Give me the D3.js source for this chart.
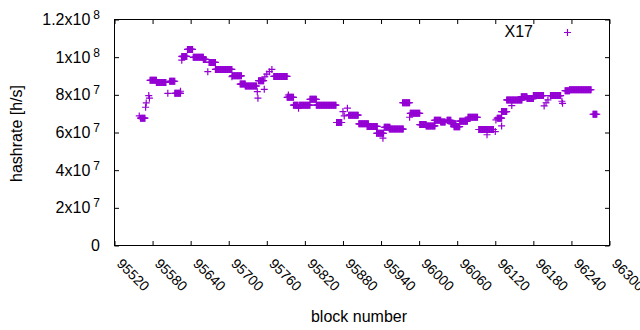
<!DOCTYPE html>
<html>
<head>
<meta charset="utf-8">
<script src="https://cdn.jsdelivr.net/npm/d3@7"></script>
<style>
  body { margin: 0; background: #fff; }
  svg text { font-family: "Liberation Sans", Arial, sans-serif; fill: #000; }
</style>
</head>
<body>
<div id="chart"></div>
<script>
// Data: runs of consecutive blocks with the same hashrate (in 1e6 h/s)
const runStart = [95559, 95561, 95569, 95570, 95574, 95575, 95576, 95586, 95604, 95607,
    95615, 95624, 95626, 95628, 95626, 95635, 95644, 95660, 95667, 95669,
    95679, 95705, 95706, 95718, 95726, 95745, 95746, 95747, 95756, 95757,
    95760, 95764, 95768, 95771, 95792, 95794, 95802, 95810, 95811, 95828,
    95838, 95870, 95880, 95882, 95887, 95889, 95905, 95918, 95933, 95943,
    95945, 95953, 95974, 95985, 95986, 96001, 96011, 96024, 96034, 96044,
    96050, 96055, 96064, 96077, 96094, 96107, 96120, 96121, 96123, 96130,
    96130, 96138, 96146, 96161, 96170, 96180, 96197, 96200, 96203, 96207,
    96225, 96226, 96230, 96237, 96274];
const runEnd = [95559, 95568, 95569, 95570, 95574, 95575, 95586, 95601, 95604, 95615,
    95624, 95624, 95626, 95628, 95634, 95643, 95660, 95664, 95667, 95679,
    95705, 95705, 95720, 95726, 95744, 95745, 95746, 95755, 95756, 95757,
    95760, 95764, 95768, 95792, 95802, 95794, 95809, 95810, 95828, 95838,
    95869, 95878, 95880, 95882, 95887, 95904, 95920, 95934, 95944, 95943,
    95954, 95975, 95985, 95985, 96001, 96011, 96025, 96034, 96041, 96050,
    96058, 96064, 96076, 96092, 96117, 96107, 96120, 96121, 96130, 96130,
    96138, 96162, 96146, 96170, 96180, 96196, 96197, 96200, 96203, 96223,
    96225, 96226, 96237, 96271, 96280];
const runRate = [68.8, 67.6, 73.4, 75.7, 79.6, 78.2, 87.7, 86.6, 80.8, 87.2,
    80.8, 81.9, 98.4, 100.2, 100.4, 104.1, 99.9, 98.8, 92.3, 97.2,
    93.5, 89.6, 90.1, 85.7, 84.7, 81.7, 78.2, 87.5, 82.9, 89.6,
    91.0, 92.3, 93.5, 89.8, 78.7, 79.9, 74.5, 72.9, 74.5, 77.6,
    74.5, 65.3, 71.1, 68.8, 72.9, 69.2, 64.6, 63.2, 59.6, 57.0,
    62.8, 61.8, 75.8, 68.1, 70.2, 64.2, 63.5, 66.5, 65.6, 66.5,
    64.7, 63.1, 66.0, 68.1, 61.6, 58.8, 60.5, 66.7, 67.6, 63.5,
    71.1, 77.3, 74.3, 79.0, 78.0, 79.6, 74.1, 75.8, 77.3, 79.6,
    76.6, 75.5, 82.2, 82.7, 69.7];

const seriesName = 'X17';
const xTicks = [95520, 95580, 95640, 95700, 95760, 95820, 95880, 95940, 96000, 96060, 96120, 96180, 96240, 96300];
const yTicks = [0, 2e7, 4e7, 6e7, 8e7, 1e8, 1.2e8];
const yTickMant = ['0', '2x10', '4x10', '6x10', '8x10', '1x10', '1.2x10'];
const yTickExp = ['', '7', '7', '7', '7', '8', '8'];

const W = 640, H = 330;
const purple = '#9400d3';

const svg = d3.select('#chart').append('svg')
    .attr('width', W)
    .attr('height', H);

const x = d3.scaleLinear().domain([95520, 96300]).range([114.5, 609.5]);
const y = d3.scaleLinear().domain([0, 1.2e8]).range([245.5, 19.5]);

// one point per block inside each run
const points = [];
runStart.forEach((s, i) => {
    d3.range(s, runEnd[i] + 1).forEach(b => points.push({block: b, rate: runRate[i] * 1e6}));
});

const tick = 4.5;

// axes with inward ticks (mirrored on top/right)
const gx = svg.append('g').attr('transform', `translate(0,${y.range()[0]})`)
    .call(d3.axisBottom(x).tickValues(xTicks).tickSizeInner(-tick).tickSizeOuter(0).tickFormat(d3.format('d')));
gx.selectAll('text')
    .attr('x', 0).attr('y', 0).attr('dy', null)
    .attr('transform', 'translate(1,19) rotate(45)')
    .style('text-anchor', 'start')
    .style('font-size', '14px');

svg.append('g').attr('transform', `translate(0,${y.range()[1]})`)
    .call(d3.axisTop(x).tickValues(xTicks).tickSizeInner(-tick).tickSizeOuter(0).tickFormat(''));

svg.append('g').attr('transform', `translate(${x.range()[0]},0)`)
    .call(d3.axisLeft(y).tickValues(yTicks).tickSizeInner(-tick).tickSizeOuter(0).tickFormat(''));

svg.append('g').attr('transform', `translate(${x.range()[1]},0)`)
    .call(d3.axisRight(y).tickValues(yTicks).tickSizeInner(-tick).tickSizeOuter(0).tickFormat(''));

svg.selectAll('.domain').remove();
svg.selectAll('.tick line').attr('stroke', '#000');

// y tick labels with superscript exponents
const yl = svg.append('g').selectAll('text')
    .data(yTicks)
    .join('text')
    .attr('x', 100)
    .attr('y', d => y(d) + 5.5)
    .attr('text-anchor', 'end')
    .style('font-size', '16px');
yl.append('tspan').text((d, i) => yTickMant[i]);
yl.append('tspan')
    .attr('dx', 3)
    .attr('dy', -6)
    .style('font-size', '12px')
    .text((d, i) => yTickExp[i]);

// border
svg.append('rect')
    .attr('x', x.range()[0]).attr('y', y.range()[1])
    .attr('width', x.range()[1] - x.range()[0])
    .attr('height', y.range()[0] - y.range()[1])
    .attr('fill', 'none')
    .attr('stroke', '#000')
    .attr('stroke-width', 1);

// points
const cross = 'M-3.5,0H3.5M0,-3.5V3.5';
svg.append('g').selectAll('path')
    .data(points)
    .join('path')
    .attr('d', cross)
    .attr('transform', d => `translate(${x(d.block)},${y(d.rate)})`)
    .attr('stroke', purple)
    .attr('stroke-width', 1.2)
    .attr('fill', 'none');

// legend
svg.append('text')
    .attr('x', 533).attr('y', 37)
    .attr('text-anchor', 'end')
    .style('font-size', '16px')
    .text(seriesName);
svg.append('path')
    .attr('d', cross)
    .attr('transform', 'translate(567.5,32.5)')
    .attr('stroke', purple)
    .attr('stroke-width', 1.2)
    .attr('fill', 'none');

// axis titles
svg.append('text')
    .attr('x', 359).attr('y', 322)
    .attr('text-anchor', 'middle')
    .style('font-size', '16px')
    .text('block number');

svg.append('text')
    .attr('transform', 'translate(22,133.5) rotate(-90)')
    .attr('text-anchor', 'middle')
    .style('font-size', '16px')
    .text('hashrate [h/s]');
</script>
</body>
</html>
